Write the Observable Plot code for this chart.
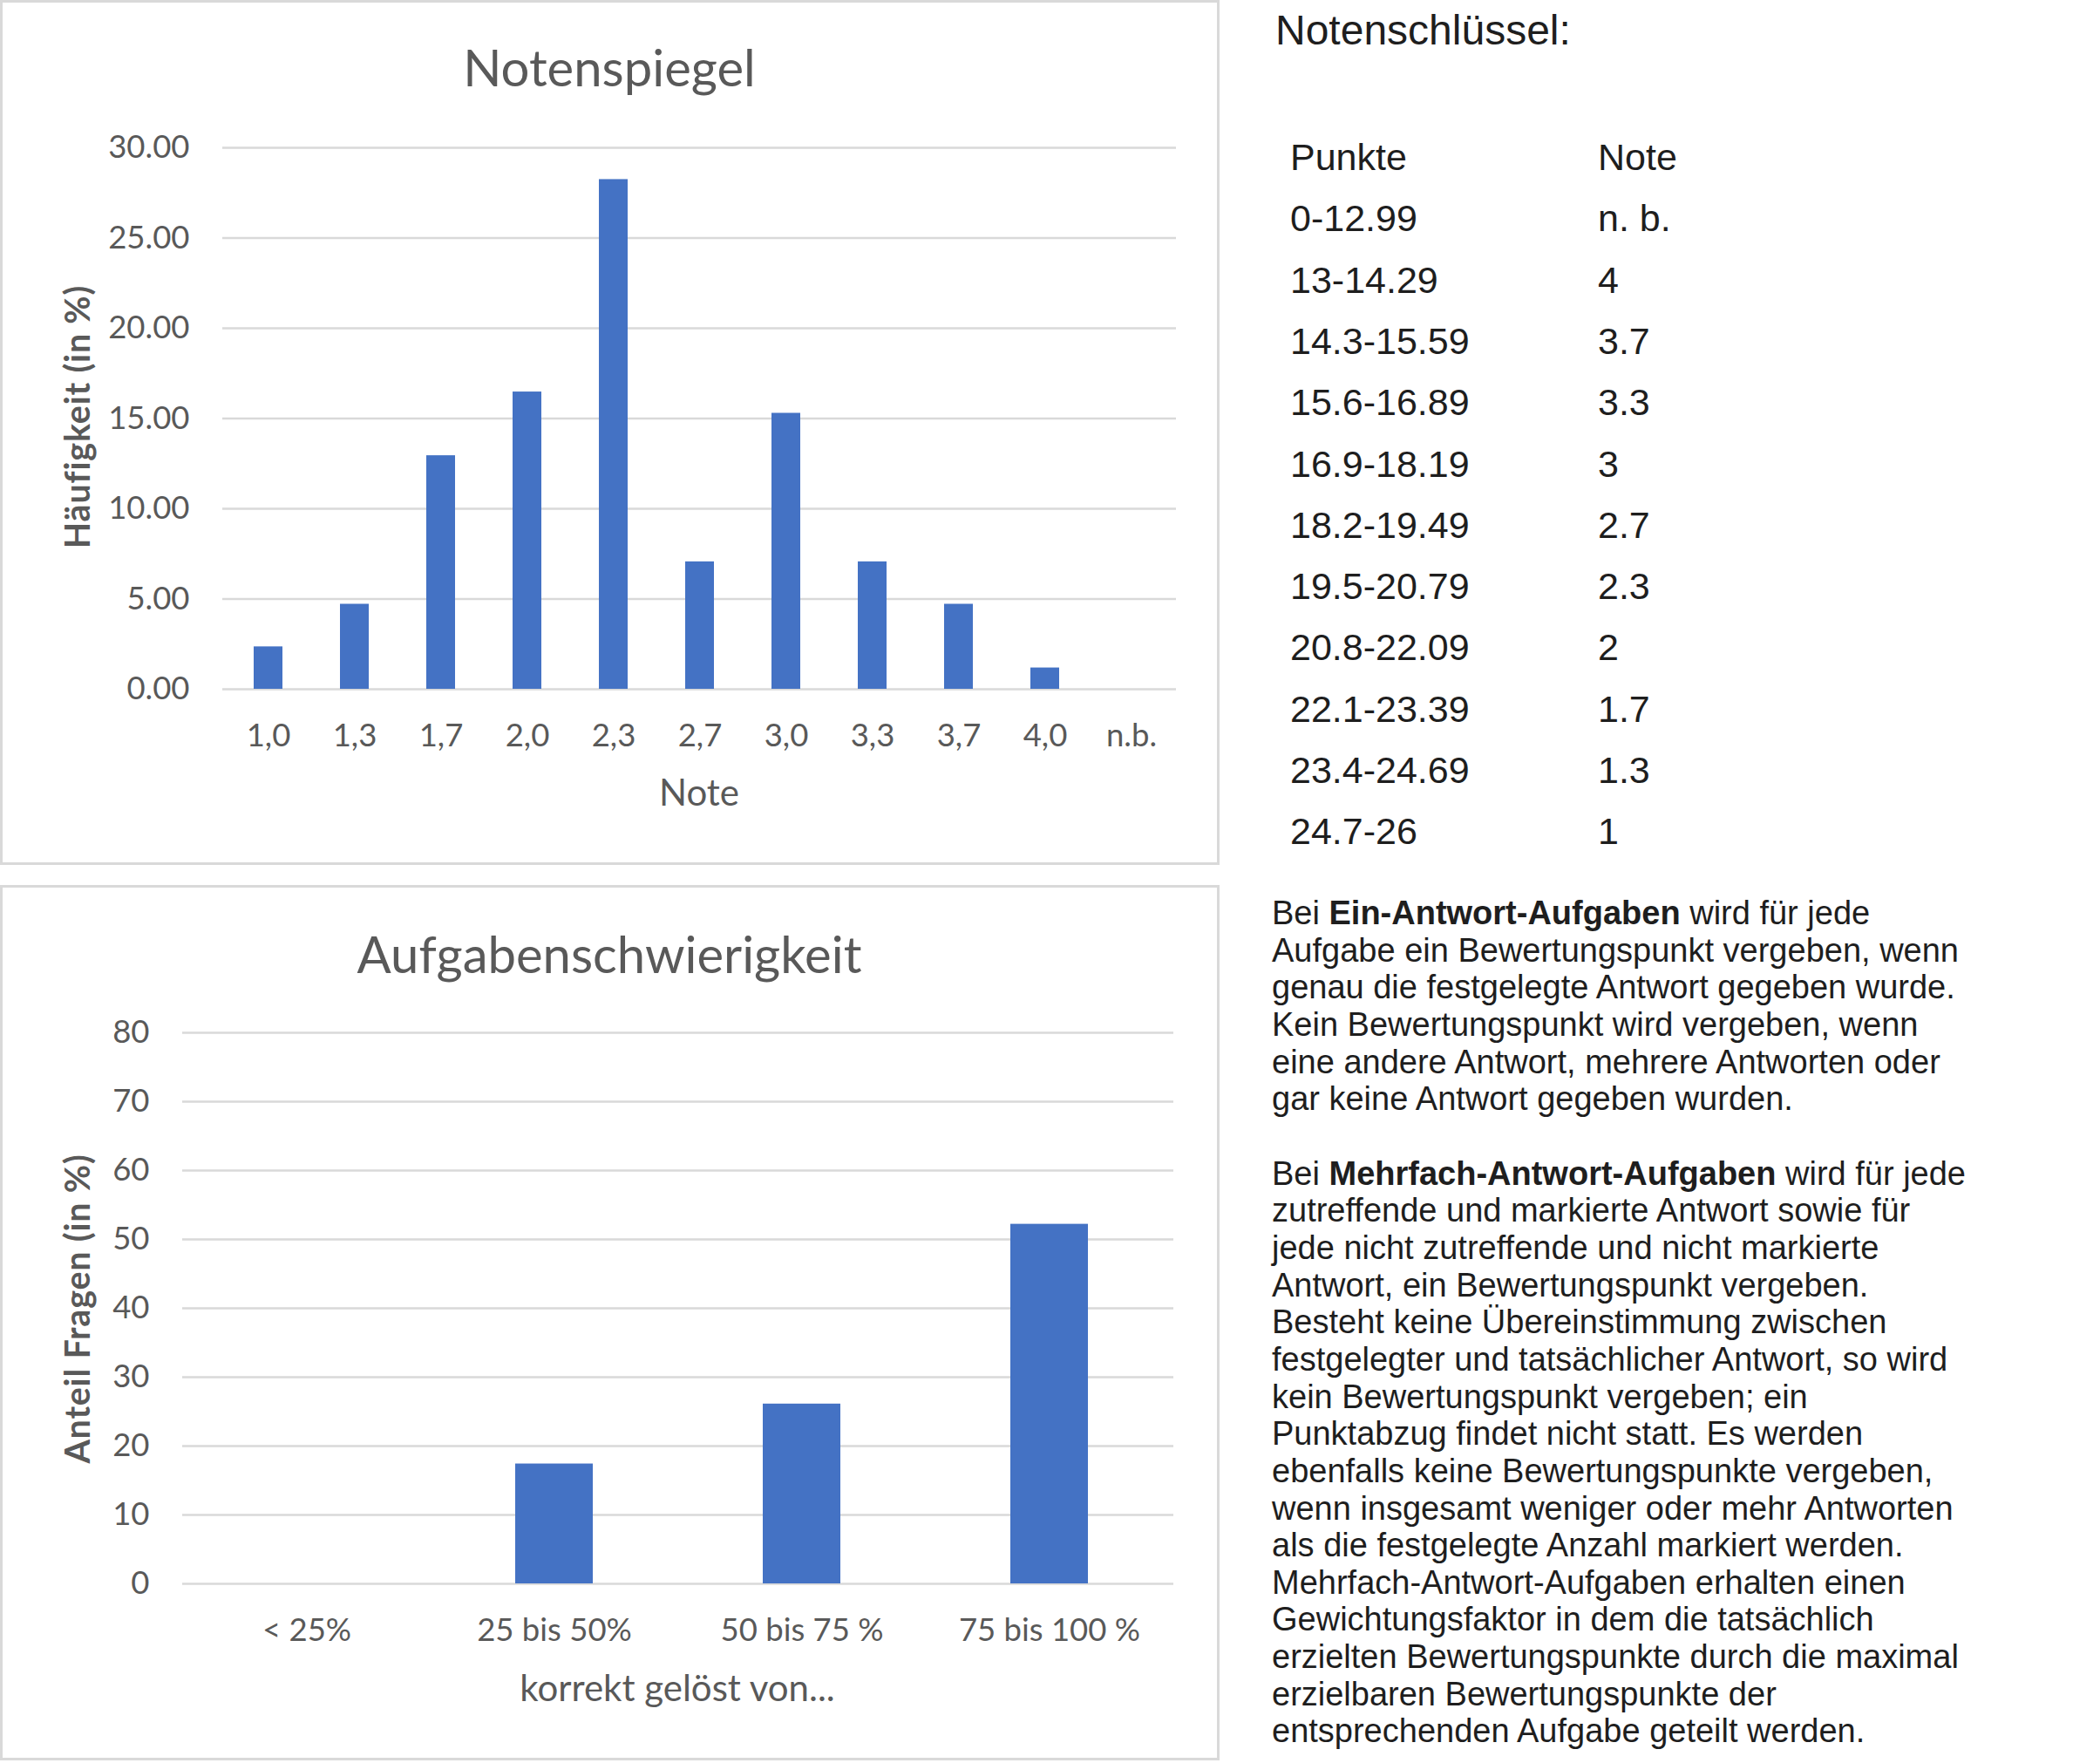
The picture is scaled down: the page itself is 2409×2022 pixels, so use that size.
<!DOCTYPE html>
<html>
<head>
<meta charset="utf-8">
<script src="https://cdn.jsdelivr.net/npm/d3@7"></script>
<script src="https://cdn.jsdelivr.net/npm/@observablehq/plot@0.6"></script>
<style>
  html, body { margin: 0; padding: 0; background: #ffffff; }
  #page { position: relative; width: 2409px; height: 2022px; overflow: hidden; background: #fff; }
  .box { position: absolute; box-sizing: border-box; border: 3px solid #d9d9d9; }
  .abs { position: absolute; }
  .ctitle { font-family: Lato, sans-serif; font-size: 58px; color: #595959; white-space: nowrap; transform: translate(-50%, -50%); line-height: 1; }
  .atitle { font-family: Lato, sans-serif; font-size: 42px; color: #595959; white-space: nowrap; transform: translate(-50%, -50%); line-height: 1; }
  .ytitle { font-family: Lato, sans-serif; font-size: 39.5px; font-weight: bold; color: #595959; white-space: nowrap; transform: translate(-50%, -50%) rotate(-90deg); line-height: 1; letter-spacing: 0.8px; }
  .rtext { font-family: "Liberation Sans", Arial, sans-serif; color: #1e1e1e; white-space: nowrap; }
  .keyrow { position: absolute; left: 0; height: 70.3px; line-height: 70.3px; font-size: 43px; width: 700px; }
  .keyrow span { position: absolute; top: 0; }
  .para div { height: 42.66px; line-height: 42.66px; font-size: 38px; }
</style>
</head>
<body>
<div id="page">
  <div class="box" style="left:0;top:0;width:1399px;height:992px;"></div>
  <div class="box" style="left:0;top:1015px;width:1399px;height:1004px;"></div>
  <div id="chart1" class="abs" style="left:0;top:0;"></div>
  <div id="chart2" class="abs" style="left:0;top:1014px;"></div>
  <div class="abs ctitle" style="left:699px;top:77px;">Notenspiegel</div>
  <div class="abs ctitle" style="left:699px;top:1094px;">Aufgabenschwierigkeit</div>
  <div class="abs atitle" style="left:802px;top:908px;">Note</div>
  <div class="abs atitle" style="left:777px;top:1935px;">korrekt gelöst von...</div>
  <div class="abs ytitle" style="left:88px;top:478px;">Häufigkeit (in %)</div>
  <div class="abs ytitle" style="left:88px;top:1501px;">Anteil Fragen (in %)</div>

  <div class="abs rtext" style="left:1463px;top:11px;font-size:48px;line-height:48px;">Notenschlüssel:</div>
  <div id="key" class="abs rtext" style="left:1480px;top:145px;width:700px;height:900px;"></div>
  <div id="para" class="abs rtext para" style="left:1459px;top:1026px;"></div>
</div>
<script>
// ---- Data: Notenspiegel ----
const grades = ["1,0", "1,3", "1,7", "2,0", "2,3", "2,7", "3,0", "3,3", "3,7", "4,0", "n.b."];
const gradeShare = [2.35, 4.71, 12.94, 16.47, 28.24, 7.06, 15.29, 7.06, 4.71, 1.18, 0];
const gradeTicks = [0, 5, 10, 15, 20, 25, 30];

// ---- Data: Aufgabenschwierigkeit ----
const difficultyCats = ["< 25%", "25 bis 50%", "50 bis 75 %", "75 bis 100 %"];
const difficultyShare = [0, 17.4, 26.1, 52.2];
const difficultyTicks = [0, 10, 20, 30, 40, 50, 60, 70, 80];

// ---- Notenschlüssel ----
const keyPoints = ["0-12.99", "13-14.29", "14.3-15.59", "15.6-16.89", "16.9-18.19", "18.2-19.49", "19.5-20.79", "20.8-22.09", "22.1-23.39", "23.4-24.69", "24.7-26"];
const keyGrades = ["n. b.", "4", "3.7", "3.3", "3", "2.7", "2.3", "2", "1.7", "1.3", "1"];

const paraLines = [
  ["Bei ", "Ein-Antwort-Aufgaben", " wird für jede"],
  ["Aufgabe ein Bewertungspunkt vergeben, wenn"],
  ["genau die festgelegte Antwort gegeben wurde."],
  ["Kein Bewertungspunkt wird vergeben, wenn"],
  ["eine andere Antwort, mehrere Antworten oder"],
  ["gar keine Antwort gegeben wurden."],
  [""],
  ["Bei ", "Mehrfach-Antwort-Aufgaben", " wird für jede"],
  ["zutreffende und markierte Antwort sowie für"],
  ["jede nicht zutreffende und nicht markierte"],
  ["Antwort, ein Bewertungspunkt vergeben."],
  ["Besteht keine Übereinstimmung zwischen"],
  ["festgelegter und tatsächlicher Antwort, so wird"],
  ["kein Bewertungspunkt vergeben; ein"],
  ["Punktabzug findet nicht statt. Es werden"],
  ["ebenfalls keine Bewertungspunkte vergeben,"],
  ["wenn insgesamt weniger oder mehr Antworten"],
  ["als die festgelegte Anzahl markiert werden."],
  ["Mehrfach-Antwort-Aufgaben erhalten einen"],
  ["Gewichtungsfaktor in dem die tatsächlich"],
  ["erzielten Bewertungspunkte durch die maximal"],
  ["erzielbaren Bewertungspunkte der"],
  ["entsprechenden Aufgabe geteilt werden."]
];

const barColor = "#4472c4";
const gridColor = "#d9d9d9";
const textColor = "#595959";

const gradeData = grades.map((g, i) => ({grade: g, share: gradeShare[i]}));
const diffData = difficultyCats.map((c, i) => ({cat: c, share: difficultyShare[i]}));

const chart1 = Plot.plot({
  width: 1398,
  height: 991,
  marginLeft: 255,
  marginRight: 49,
  marginTop: 169,
  marginBottom: 201,
  style: {fontFamily: "Lato, sans-serif", fontSize: "36.5px", color: textColor, background: "transparent", overflow: "visible"},
  x: {domain: grades, paddingInner: 0.67, paddingOuter: 0.335, axis: null, label: null},
  y: {domain: [0, 30], axis: null, label: null},
  marks: [
    Plot.gridY(gradeTicks, {stroke: gridColor, strokeOpacity: 1, strokeWidth: 2.5}),
    Plot.barY(gradeData, {x: "grade", y: "share", fill: barColor}),
    Plot.axisY(gradeTicks, {tickSize: 0, tickPadding: 38, tickFormat: d3.format(".2f"), label: null, fill: textColor}),
    Plot.axisX({tickSize: 0, tickPadding: 40, label: null, fill: textColor})
  ]
});
document.getElementById("chart1").appendChild(chart1);

const chart2 = Plot.plot({
  width: 1398,
  height: 1004,
  marginLeft: 209,
  marginRight: 52,
  marginTop: 170,
  marginBottom: 202,
  style: {fontFamily: "Lato, sans-serif", fontSize: "36.5px", color: textColor, background: "transparent", overflow: "visible"},
  x: {domain: difficultyCats, paddingInner: 0.685, paddingOuter: 0.3425, axis: null, label: null},
  y: {domain: [0, 80], axis: null, label: null},
  marks: [
    Plot.gridY(difficultyTicks, {stroke: gridColor, strokeOpacity: 1, strokeWidth: 2.5}),
    Plot.barY(diffData, {x: "cat", y: "share", fill: barColor}),
    Plot.axisY(difficultyTicks, {tickSize: 0, tickPadding: 38, tickFormat: d3.format("d"), label: null, fill: textColor}),
    Plot.axisX({tickSize: 0, tickPadding: 40, label: null, fill: textColor})
  ]
});
document.getElementById("chart2").appendChild(chart2);

// Notenschlüssel table
const key = document.getElementById("key");
const rows = [["Punkte", "Note"]].concat(keyPoints.map((p, i) => [p, keyGrades[i]]));
rows.forEach((r, i) => {
  const row = document.createElement("div");
  row.className = "keyrow";
  row.style.top = (i * 70.3) + "px";
  const a = document.createElement("span");
  a.style.left = "0px";
  a.textContent = r[0];
  const b = document.createElement("span");
  b.style.left = "353px";
  b.textContent = r[1];
  row.appendChild(a);
  row.appendChild(b);
  key.appendChild(row);
});

// Paragraph text
const para = document.getElementById("para");
paraLines.forEach(parts => {
  const line = document.createElement("div");
  parts.forEach((t, j) => {
    if (parts.length === 3 && j === 1) {
      const b = document.createElement("b");
      b.textContent = t;
      line.appendChild(b);
    } else {
      line.appendChild(document.createTextNode(t));
    }
  });
  if (parts.length === 1 && parts[0] === "") line.innerHTML = "&nbsp;";
  para.appendChild(line);
});
</script>
</body>
</html>
